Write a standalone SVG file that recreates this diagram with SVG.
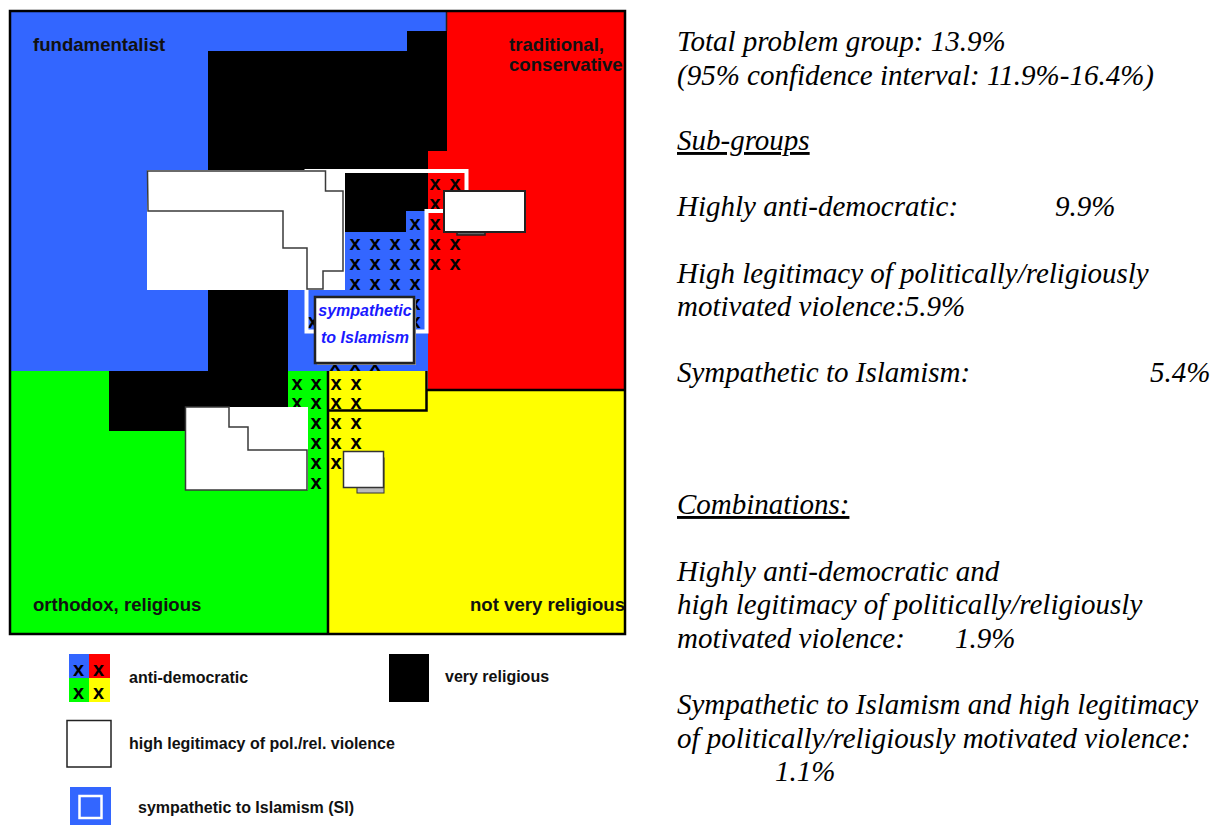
<svg xmlns="http://www.w3.org/2000/svg" width="1213" height="825" viewBox="0 0 1213 825">
<style>
.q{font-family:"Liberation Sans",Arial,sans-serif;font-weight:bold;font-size:18.6px;fill:#111}
.lg{font-family:"Liberation Sans",Arial,sans-serif;font-weight:bold;font-size:16px;fill:#111}
.x{font-family:"Liberation Sans",Arial,sans-serif;font-weight:bold;font-size:20px;fill:#000;text-anchor:middle}
.r{font-family:"Liberation Serif","Times New Roman",serif;font-style:italic;font-size:29px;fill:#000}
.u{text-decoration:underline}
.hl{fill:#fff;stroke:none}
.ol{fill:none;stroke:#3a3a3a;stroke-width:1.5}
.bx{fill:#fff;stroke:#222;stroke-width:2}
.dl{stroke:#000;stroke-width:2.5;fill:none}
</style>
<rect width="1213" height="825" fill="#fff"/>
<g id="quadrants">
<rect x="428" y="11" width="198" height="379" fill="#ff0000"/>
<polygon points="10,11 446,11 446,151 428,151 428,371 10,371" fill="#3366ff"/>
<rect x="10" y="371" width="318" height="263" fill="#00ff00"/>
<rect x="328" y="390" width="298" height="244" fill="#ffff00"/>
<rect x="328" y="371" width="99" height="40" fill="#ffff00"/>
</g>
<g id="anti-democratic-marks">
<text class="x" x="435" y="190">x</text><text class="x" x="455" y="190">x</text>
<text class="x" x="435" y="210">x</text>
<text class="x" x="415" y="230">x</text><text class="x" x="435" y="230">x</text>
<text class="x" x="355" y="250">x</text><text class="x" x="375" y="250">x</text><text class="x" x="395" y="250">x</text><text class="x" x="415" y="250">x</text><text class="x" x="435" y="250">x</text><text class="x" x="455" y="250">x</text>
<text class="x" x="355" y="270">x</text><text class="x" x="375" y="270">x</text><text class="x" x="395" y="270">x</text><text class="x" x="415" y="270">x</text><text class="x" x="435" y="270">x</text><text class="x" x="455" y="270">x</text>
<text class="x" x="355" y="290">x</text><text class="x" x="375" y="290">x</text><text class="x" x="395" y="290">x</text><text class="x" x="415" y="290">x</text>
<text class="x" x="415" y="310">x</text>
<text class="x" x="313" y="328">x</text><text class="x" x="415" y="328">x</text>
<text class="x" x="335" y="371">x</text><text class="x" x="355" y="371">x</text><text class="x" x="375" y="371">x</text>
<text class="x" x="297" y="390">x</text><text class="x" x="316" y="390">x</text><text class="x" x="336" y="390">x</text><text class="x" x="356" y="390">x</text>
<text class="x" x="297" y="409">x</text><text class="x" x="316" y="409">x</text><text class="x" x="336" y="409">x</text><text class="x" x="356" y="409">x</text>
<text class="x" x="316" y="429">x</text><text class="x" x="336" y="429">x</text><text class="x" x="356" y="429">x</text>
<text class="x" x="316" y="449">x</text><text class="x" x="336" y="449">x</text><text class="x" x="356" y="449">x</text>
<text class="x" x="316" y="469">x</text><text class="x" x="336" y="469">x</text>
<text class="x" x="316" y="489">x</text>
</g>
<g id="connectors">
<line class="dl" x1="328" y1="371" x2="328" y2="634"/>
<line class="dl" x1="427" y1="390" x2="626" y2="390"/>
<polyline class="dl" points="426.5,371 426.5,410.5 328,410.5"/>
<line x1="446.5" y1="11" x2="446.5" y2="31" stroke="#222" stroke-width="1.5"/>
</g>
<g id="very-religious">
<polygon points="407,31 447,31 447,151 428,151 428,211 406,211 406,232 345,232 345,290 288,290 288,431 109,431 109,371 208,371 208,51 407,51" fill="#000"/>
</g>
<g id="si-outline">
<polygon points="306.5,171 466.5,171 466.5,211 426.5,211 426.5,331.5 306.5,331.5" fill="none" stroke="#fff" stroke-width="4"/>
</g>
<g id="violence-1">
<rect class="hl" x="147" y="170" width="198" height="120"/>
<polygon class="ol" points="147.5,171 325.5,171 325.5,191 343,191 343,271 323,271 323,289 307,289 307,248 283,248 283,211 148,211"/>
</g>
<g id="violence-2">
<rect x="457" y="226" width="28" height="9" fill="#666" stroke="#222" stroke-width="1.5"/>
<rect class="bx" x="444" y="191" width="81" height="41"/>
</g>
<g id="violence-3">
<rect class="hl" x="185" y="407" width="123" height="83"/>
<polygon class="ol" points="185.5,407 229,407 229,427 248,427 248,450 307,450 307,490 185.5,490"/>
</g>
<g id="violence-4">
<rect x="357" y="458" width="27" height="35" fill="#bbb" stroke="#333" stroke-width="1"/>
<rect x="343.5" y="451.5" width="40" height="36" fill="#fff" stroke="#333" stroke-width="1.5"/>
</g>
<g id="si-label">
<rect x="317" y="299" width="99" height="66" fill="#999"/>
<rect x="315" y="297" width="99" height="66" fill="#fff" stroke="#222" stroke-width="2.5"/>
<text x="365" y="316" text-anchor="middle" style="font-family:'Liberation Sans',Arial,sans-serif;font-weight:bold;font-style:italic;font-size:16px;fill:#1a1aff">sympathetic</text>
<text x="365" y="343" text-anchor="middle" style="font-family:'Liberation Sans',Arial,sans-serif;font-weight:bold;font-style:italic;font-size:16px;fill:#1a1aff">to Islamism</text>
</g>
<g id="frame">
<rect x="10" y="11" width="615" height="623" fill="none" stroke="#000" stroke-width="2.5"/>
</g>
<g id="quadrant-labels">
<text class="q" x="33" y="51">fundamentalist</text>
<text class="q" x="509" y="51">traditional,</text>
<text class="q" x="509" y="71">conservative</text>
<text class="q" x="33" y="611">orthodox, religious</text>
<text class="q" x="470" y="611">not very religious</text>
</g>
<g id="legend-anti-democratic">
<rect x="69" y="654" width="20" height="24" fill="#3366ff"/>
<rect x="89" y="654" width="21" height="24" fill="#ff0000"/>
<rect x="69" y="678" width="20" height="24" fill="#00ff00"/>
<rect x="89" y="678" width="21" height="24" fill="#ffff00"/>
<text class="x" x="78.5" y="676">x</text><text class="x" x="98.5" y="676">x</text>
<text class="x" x="78.5" y="699">x</text><text class="x" x="98.5" y="699">x</text>
<text class="lg" x="129" y="683">anti-democratic</text>
</g>
<g id="legend-very-religious">
<rect x="389" y="654" width="40" height="48" fill="#000"/>
<text class="lg" x="445" y="682">very religious</text>
</g>
<g id="legend-violence">
<rect x="67" y="720.5" width="44" height="46.5" fill="#fff" stroke="#222" stroke-width="1.5"/>
<text class="lg" x="129" y="749">high legitimacy of pol./rel. violence</text>
</g>
<g id="legend-si">
<rect x="70" y="787" width="41" height="38" fill="#3366ff"/>
<rect x="79.5" y="796" width="22" height="22" fill="none" stroke="#fff" stroke-width="2.5"/>
<text class="lg" x="138" y="813">sympathetic to Islamism (SI)</text>
</g>
<g id="statistics">
<text class="r" x="677" y="51">Total problem group: 13.9%</text>
<text class="r" x="677" y="85">(95% confidence interval: 11.9%-16.4%)</text>
<text class="r u" x="677" y="150">Sub-groups</text>
<text class="r" x="677" y="216">Highly anti-democratic:</text>
<text class="r" x="1055" y="216">9.9%</text>
<text class="r" x="677" y="283">High legitimacy of politically/religiously</text>
<text class="r" x="677" y="316">motivated violence:5.9%</text>
<text class="r" x="677" y="382">Sympathetic to Islamism:</text>
<text class="r" x="1150" y="382">5.4%</text>
<text class="r u" x="677" y="514">Combinations:</text>
<text class="r" x="677" y="581">Highly anti-democratic and</text>
<text class="r" x="677" y="614">high legitimacy of politically/religiously</text>
<text class="r" x="677" y="648">motivated violence:</text>
<text class="r" x="955" y="648">1.9%</text>
<text class="r" x="677" y="714">Sympathetic to Islamism and high legitimacy</text>
<text class="r" x="677" y="748">of politically/religiously motivated violence:</text>
<text class="r" x="775" y="781">1.1%</text>
</g>
</svg>
